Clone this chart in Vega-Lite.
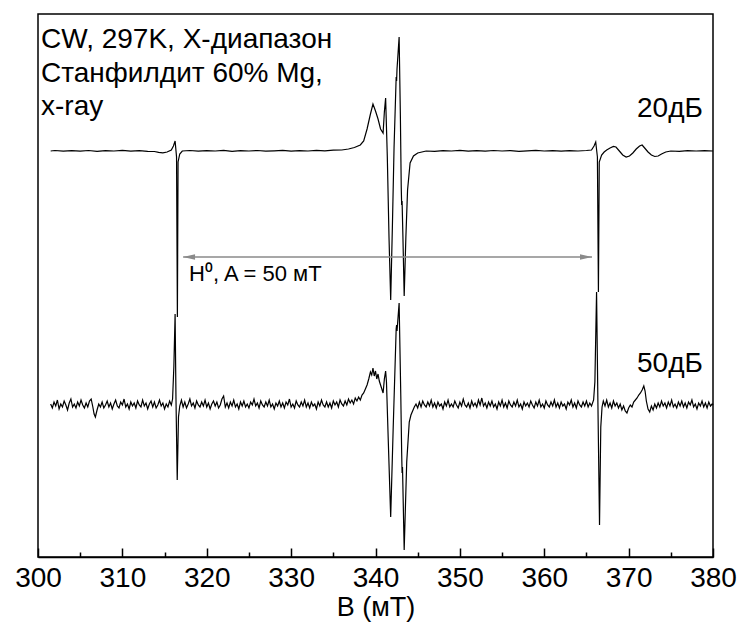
{
"$schema": "https://vega.github.io/schema/vega-lite/v6.json",
"width": 675, "height": 543,
"autosize": {"type": "none"},
"padding": {"left": 38, "top": 14, "right": 30, "bottom": 65},
"config": {"view": {"stroke": "black", "strokeWidth": 1.5}, "font": "Liberation Sans"},
"datasets": {
"top": [
{"B":301.5,"v":406},{"B":302,"v":406.5},{"B":303,"v":405.8},{"B":304,"v":406.4},{"B":305,"v":405.9},{"B":306,"v":406.5},{"B":307,"v":405.7},{"B":308,"v":406.3},{"B":309,"v":406},{"B":310,"v":406.6},{"B":311,"v":405.8},{"B":312,"v":406.3},{"B":313,"v":405.6},{"B":313.8,"v":405.5},{"B":314.3,"v":404.6},{"B":314.8,"v":404.2},{"B":315.3,"v":405},{"B":315.8,"v":407},{"B":316.05,"v":411},{"B":316.25,"v":416},{"B":316.42,"v":400},{"B":316.52,"v":240},{"B":316.6,"v":395},{"B":316.8,"v":403},{"B":317.1,"v":406},{"B":318,"v":406.5},{"B":319,"v":405.8},{"B":320,"v":406.4},{"B":321,"v":406},{"B":322,"v":406.6},{"B":323,"v":405.7},{"B":324,"v":406.3},{"B":325,"v":406},{"B":326,"v":406.5},{"B":327,"v":405.8},{"B":328,"v":406.2},{"B":329,"v":406.6},{"B":330,"v":405.9},{"B":331,"v":406.3},{"B":332,"v":406},{"B":333,"v":406.6},{"B":334,"v":406.2},{"B":335,"v":406.8},{"B":336,"v":407},{"B":336.8,"v":408},{"B":337.5,"v":409.5},{"B":338.2,"v":412},{"B":338.6,"v":416},{"B":339.0,"v":428},{"B":339.4,"v":443},{"B":339.7,"v":453},{"B":340.0,"v":446},{"B":340.3,"v":438},{"B":340.6,"v":428},{"B":340.9,"v":424},{"B":341.05,"v":445},{"B":341.2,"v":459},{"B":341.4,"v":400},{"B":341.6,"v":320},{"B":341.8,"v":257},{"B":342.0,"v":330},{"B":342.2,"v":410},{"B":342.45,"v":480},{"B":342.5,"v":476},{"B":342.55,"v":488},{"B":342.8,"v":520},{"B":342.95,"v":440},{"B":343.05,"v":370},{"B":343.1,"v":352},{"B":343.15,"v":356},{"B":343.25,"v":320},{"B":343.4,"v":261},{"B":343.6,"v":320},{"B":343.8,"v":367},{"B":344.1,"v":394},{"B":344.5,"v":401},{"B":345.0,"v":404},{"B":345.5,"v":405},{"B":346,"v":406},{"B":347,"v":405.6},{"B":348,"v":406.3},{"B":349,"v":406},{"B":350,"v":406.6},{"B":351,"v":405.8},{"B":352,"v":406.3},{"B":353,"v":405.9},{"B":354,"v":406.5},{"B":355,"v":406},{"B":356,"v":406.4},{"B":357,"v":405.7},{"B":358,"v":406.2},{"B":359,"v":406.6},{"B":360,"v":406},{"B":361,"v":406.4},{"B":362,"v":405.8},{"B":363,"v":406.3},{"B":364,"v":406},{"B":365,"v":406.5},{"B":365.6,"v":407},{"B":365.9,"v":411},{"B":366.1,"v":415},{"B":366.3,"v":400},{"B":366.42,"v":265},{"B":366.52,"v":395},{"B":366.8,"v":402},{"B":367.1,"v":405},{"B":367.4,"v":407},{"B":367.8,"v":409},{"B":368.2,"v":410.5},{"B":368.5,"v":410},{"B":368.9,"v":406},{"B":369.3,"v":402},{"B":369.7,"v":400},{"B":370.1,"v":401},{"B":370.5,"v":404},{"B":370.9,"v":408},{"B":371.3,"v":411},{"B":371.6,"v":412},{"B":371.9,"v":409},{"B":372.3,"v":405},{"B":372.7,"v":402},{"B":373.1,"v":400.5},{"B":373.5,"v":401},{"B":373.9,"v":403},{"B":374.4,"v":405},{"B":375,"v":406},{"B":376,"v":405.7},{"B":377,"v":406.3},{"B":378,"v":406},{"B":379,"v":406.4},{"B":380,"v":406}
],
"bottom": [
{"B":301.5,"v":153},{"B":301.7,"v":149},{"B":301.9,"v":155},{"B":302.1,"v":151},{"B":302.3,"v":157},{"B":302.5,"v":148},{"B":302.7,"v":153},{"B":302.9,"v":150},{"B":303.1,"v":156},{"B":303.3,"v":152},{"B":303.5,"v":147},{"B":303.7,"v":154},{"B":303.9,"v":158},{"B":304.1,"v":150},{"B":304.3,"v":153},{"B":304.5,"v":149},{"B":304.7,"v":155},{"B":304.9,"v":151},{"B":305.1,"v":157},{"B":305.3,"v":152},{"B":305.5,"v":149},{"B":305.7,"v":154},{"B":305.9,"v":150},{"B":306.1,"v":156},{"B":306.3,"v":158},{"B":306.5,"v":150},{"B":306.65,"v":143},{"B":306.8,"v":140},{"B":307.0,"v":147},{"B":307.2,"v":153},{"B":307.4,"v":150},{"B":307.6,"v":155},{"B":307.8,"v":149},{"B":308.0,"v":152},{"B":308.2,"v":156},{"B":308.4,"v":150},{"B":308.6,"v":154},{"B":308.8,"v":148},{"B":309.0,"v":153},{"B":309.2,"v":157},{"B":309.4,"v":151},{"B":309.6,"v":149},{"B":309.8,"v":155},{"B":310.0,"v":152},{"B":310.2,"v":158},{"B":310.4,"v":150},{"B":310.6,"v":153},{"B":310.8,"v":148},{"B":311.0,"v":155},{"B":311.2,"v":151},{"B":311.4,"v":154},{"B":311.6,"v":149},{"B":311.8,"v":156},{"B":312.0,"v":152},{"B":312.2,"v":150},{"B":312.4,"v":157},{"B":312.6,"v":151},{"B":312.8,"v":154},{"B":313.0,"v":148},{"B":313.2,"v":153},{"B":313.4,"v":156},{"B":313.6,"v":150},{"B":313.8,"v":155},{"B":314.0,"v":149},{"B":314.2,"v":152},{"B":314.4,"v":157},{"B":314.6,"v":151},{"B":314.8,"v":154},{"B":315.0,"v":148},{"B":315.2,"v":153},{"B":315.4,"v":150},{"B":315.6,"v":156},{"B":315.8,"v":152},{"B":315.95,"v":158},{"B":316.1,"v":190},{"B":316.25,"v":243},{"B":316.35,"v":160},{"B":316.5,"v":77},{"B":316.65,"v":140},{"B":316.8,"v":151},{"B":317.0,"v":157},{"B":317.2,"v":150},{"B":317.4,"v":155},{"B":317.6,"v":149},{"B":317.8,"v":153},{"B":318.0,"v":158},{"B":318.2,"v":151},{"B":318.4,"v":154},{"B":318.6,"v":149},{"B":318.8,"v":156},{"B":319.0,"v":152},{"B":319.2,"v":150},{"B":319.4,"v":155},{"B":319.6,"v":151},{"B":319.8,"v":157},{"B":320.0,"v":150},{"B":320.2,"v":154},{"B":320.4,"v":148},{"B":320.6,"v":153},{"B":320.8,"v":156},{"B":321.0,"v":151},{"B":321.2,"v":155},{"B":321.4,"v":149},{"B":321.6,"v":152},{"B":321.8,"v":158},{"B":322.0,"v":161},{"B":322.2,"v":150},{"B":322.4,"v":154},{"B":322.6,"v":149},{"B":322.8,"v":155},{"B":323.0,"v":151},{"B":323.2,"v":157},{"B":323.4,"v":150},{"B":323.6,"v":153},{"B":323.8,"v":148},{"B":324.0,"v":155},{"B":324.2,"v":151},{"B":324.4,"v":156},{"B":324.6,"v":150},{"B":324.8,"v":153},{"B":325.0,"v":149},{"B":325.2,"v":155},{"B":325.4,"v":152},{"B":325.6,"v":158},{"B":325.8,"v":151},{"B":326.0,"v":154},{"B":326.2,"v":149},{"B":326.4,"v":156},{"B":326.6,"v":152},{"B":326.8,"v":150},{"B":327.0,"v":155},{"B":327.2,"v":151},{"B":327.4,"v":157},{"B":327.6,"v":150},{"B":327.8,"v":153},{"B":328.0,"v":148},{"B":328.2,"v":154},{"B":328.4,"v":151},{"B":328.6,"v":156},{"B":328.8,"v":150},{"B":329.0,"v":154},{"B":329.2,"v":149},{"B":329.4,"v":155},{"B":329.6,"v":152},{"B":329.8,"v":158},{"B":330.0,"v":150},{"B":330.2,"v":153},{"B":330.4,"v":149},{"B":330.6,"v":156},{"B":330.8,"v":152},{"B":331.0,"v":150},{"B":331.2,"v":155},{"B":331.4,"v":151},{"B":331.6,"v":157},{"B":331.8,"v":150},{"B":332.0,"v":154},{"B":332.2,"v":149},{"B":332.4,"v":155},{"B":332.6,"v":151},{"B":332.8,"v":153},{"B":333.0,"v":148},{"B":333.2,"v":155},{"B":333.4,"v":151},{"B":333.6,"v":157},{"B":333.8,"v":152},{"B":334.0,"v":150},{"B":334.2,"v":155},{"B":334.4,"v":150},{"B":334.6,"v":154},{"B":334.8,"v":149},{"B":335.0,"v":156},{"B":335.2,"v":152},{"B":335.4,"v":155},{"B":335.6,"v":150},{"B":335.8,"v":157},{"B":336.0,"v":153},{"B":336.2,"v":151},{"B":336.4,"v":156},{"B":336.6,"v":152},{"B":336.8,"v":158},{"B":337.0,"v":154},{"B":337.2,"v":157},{"B":337.4,"v":153},{"B":337.6,"v":159},{"B":337.8,"v":156},{"B":338.0,"v":160},{"B":338.2,"v":157},{"B":338.4,"v":162},{"B":338.6,"v":164},{"B":338.8,"v":168},{"B":339.0,"v":172},{"B":339.2,"v":178},{"B":339.4,"v":185},{"B":339.55,"v":182},{"B":339.7,"v":189},{"B":339.85,"v":181},{"B":340.0,"v":186},{"B":340.15,"v":178},{"B":340.3,"v":183},{"B":340.45,"v":176},{"B":340.6,"v":172},{"B":340.75,"v":168},{"B":340.9,"v":164},{"B":341.05,"v":178},{"B":341.2,"v":186},{"B":341.3,"v":175},{"B":341.5,"v":120},{"B":341.8,"v":40},{"B":342.1,"v":130},{"B":342.45,"v":228},{"B":342.5,"v":232},{"B":342.55,"v":226},{"B":342.8,"v":254},{"B":343.0,"v":160},{"B":343.1,"v":105},{"B":343.15,"v":84},{"B":343.2,"v":90},{"B":343.4,"v":7},{"B":343.7,"v":95},{"B":344.0,"v":135},{"B":344.2,"v":142},{"B":344.4,"v":146},{"B":344.6,"v":150},{"B":344.8,"v":153},{"B":345.0,"v":149},{"B":345.2,"v":155},{"B":345.4,"v":150},{"B":345.6,"v":156},{"B":345.8,"v":152},{"B":346.0,"v":150},{"B":346.2,"v":155},{"B":346.4,"v":151},{"B":346.6,"v":157},{"B":346.8,"v":150},{"B":347.0,"v":154},{"B":347.2,"v":149},{"B":347.4,"v":155},{"B":347.6,"v":151},{"B":347.8,"v":153},{"B":348.0,"v":148},{"B":348.2,"v":155},{"B":348.4,"v":151},{"B":348.6,"v":157},{"B":348.8,"v":150},{"B":349.0,"v":153},{"B":349.2,"v":150},{"B":349.4,"v":156},{"B":349.6,"v":152},{"B":349.8,"v":149},{"B":350.0,"v":155},{"B":350.2,"v":151},{"B":350.4,"v":158},{"B":350.6,"v":152},{"B":350.8,"v":150},{"B":351.0,"v":154},{"B":351.2,"v":149},{"B":351.4,"v":156},{"B":351.6,"v":151},{"B":351.8,"v":154},{"B":352.0,"v":150},{"B":352.2,"v":157},{"B":352.4,"v":152},{"B":352.6,"v":159},{"B":352.8,"v":151},{"B":353.0,"v":154},{"B":353.2,"v":149},{"B":353.4,"v":155},{"B":353.6,"v":151},{"B":353.8,"v":156},{"B":354.0,"v":150},{"B":354.2,"v":153},{"B":354.4,"v":148},{"B":354.6,"v":155},{"B":354.8,"v":151},{"B":355.0,"v":157},{"B":355.2,"v":150},{"B":355.4,"v":154},{"B":355.6,"v":149},{"B":355.8,"v":156},{"B":356.0,"v":152},{"B":356.2,"v":150},{"B":356.4,"v":155},{"B":356.6,"v":151},{"B":356.8,"v":157},{"B":357.0,"v":150},{"B":357.2,"v":153},{"B":357.4,"v":148},{"B":357.6,"v":155},{"B":357.8,"v":151},{"B":358.0,"v":154},{"B":358.2,"v":150},{"B":358.4,"v":156},{"B":358.6,"v":152},{"B":358.8,"v":149},{"B":359.0,"v":155},{"B":359.2,"v":151},{"B":359.4,"v":157},{"B":359.6,"v":150},{"B":359.8,"v":153},{"B":360.0,"v":149},{"B":360.2,"v":156},{"B":360.4,"v":152},{"B":360.6,"v":150},{"B":360.8,"v":155},{"B":361.0,"v":151},{"B":361.2,"v":157},{"B":361.4,"v":150},{"B":361.6,"v":154},{"B":361.8,"v":149},{"B":362.0,"v":155},{"B":362.2,"v":151},{"B":362.4,"v":153},{"B":362.6,"v":148},{"B":362.8,"v":155},{"B":363.0,"v":152},{"B":363.2,"v":157},{"B":363.4,"v":150},{"B":363.6,"v":154},{"B":363.8,"v":149},{"B":364.0,"v":156},{"B":364.2,"v":152},{"B":364.4,"v":150},{"B":364.6,"v":155},{"B":364.8,"v":151},{"B":365.0,"v":156},{"B":365.2,"v":150},{"B":365.4,"v":154},{"B":365.6,"v":151},{"B":365.85,"v":157},{"B":366.0,"v":175},{"B":366.2,"v":265},{"B":366.35,"v":160},{"B":366.55,"v":32},{"B":366.7,"v":130},{"B":366.85,"v":150},{"B":367.0,"v":156},{"B":367.2,"v":151},{"B":367.4,"v":157},{"B":367.6,"v":150},{"B":367.8,"v":154},{"B":368.0,"v":149},{"B":368.2,"v":156},{"B":368.4,"v":151},{"B":368.6,"v":154},{"B":368.8,"v":149},{"B":369.0,"v":153},{"B":369.2,"v":147},{"B":369.4,"v":151},{"B":369.6,"v":146},{"B":369.8,"v":144},{"B":370.0,"v":149},{"B":370.2,"v":152},{"B":370.4,"v":150},{"B":370.6,"v":155},{"B":370.8,"v":157},{"B":371.0,"v":159},{"B":371.2,"v":162},{"B":371.4,"v":164},{"B":371.6,"v":167},{"B":371.8,"v":171},{"B":371.95,"v":166},{"B":372.1,"v":156},{"B":372.3,"v":148},{"B":372.5,"v":145},{"B":372.7,"v":151},{"B":372.9,"v":147},{"B":373.1,"v":153},{"B":373.3,"v":149},{"B":373.5,"v":154},{"B":373.7,"v":150},{"B":373.9,"v":156},{"B":374.1,"v":151},{"B":374.3,"v":154},{"B":374.5,"v":149},{"B":374.7,"v":155},{"B":374.9,"v":151},{"B":375.1,"v":157},{"B":375.3,"v":150},{"B":375.5,"v":153},{"B":375.7,"v":149},{"B":375.9,"v":155},{"B":376.1,"v":151},{"B":376.3,"v":156},{"B":376.5,"v":150},{"B":376.7,"v":154},{"B":376.9,"v":149},{"B":377.1,"v":155},{"B":377.3,"v":152},{"B":377.5,"v":157},{"B":377.7,"v":150},{"B":377.9,"v":153},{"B":378.1,"v":148},{"B":378.3,"v":154},{"B":378.5,"v":151},{"B":378.7,"v":156},{"B":378.9,"v":150},{"B":379.1,"v":154},{"B":379.3,"v":149},{"B":379.5,"v":155},{"B":379.7,"v":151},{"B":379.9,"v":153},{"B":380.0,"v":152}
],
"arrow": [{"B":317.2,"B2":365.66,"v":300}],
"heads": [{"B":317.9,"v":300,"dir":"left"},{"B":364.95,"v":300,"dir":"right"}],
"notes": [
{"B":300.36,"v":509,"t":"CW, 297K, X-диапазон","g":"tl"},
{"B":300.36,"v":475,"t":"Станфилдит 60% Mg,","g":"tl"},
{"B":300.36,"v":442,"t":"x-ray","g":"tl"},
{"B":378.8,"v":440,"t":"20дБ","g":"r"},
{"B":378.8,"v":185,"t":"50дБ","g":"r"},
{"B":317.9,"v":276,"t":"H⁰, A = 50 мТ","g":"h"}
]
},
"encoding": {
"x": {"field":"B","type":"quantitative","title":"B (мТ)",
 "scale":{"domain":[300,380],"nice":false,"zero":false},
 "axis":{"values":[300,305,310,315,320,325,330,335,340,345,350,355,360,365,370,375,380],
  "labelExpr":"datum.value % 10 === 0 ? datum.label : ''",
  "tickSize":{"condition":{"test":"datum.value % 10 === 0","value":-9},"value":-5},
  "tickColor":"black","tickWidth":1.5,"domainColor":"black","domainWidth":1.5,
  "labelFontSize":28,"labelColor":"black","labelPadding":16,"labelFlush":false,"labelOverlap":false,
  "labelFont":"Liberation Sans","titleFont":"Liberation Sans",
  "titleFontSize":27,"titleFontWeight":"normal","titleColor":"black","titlePadding":-2,"grid":false}},
"y": {"field":"v","type":"quantitative","scale":{"domain":[0,543],"nice":false,"zero":false},"axis":null}
},
"layer": [
{"data":{"name":"top"},"mark":{"type":"line","color":"black","strokeWidth":1.2}},
{"data":{"name":"bottom"},"mark":{"type":"line","color":"black","strokeWidth":1.2}},
{"data":{"name":"arrow"},"mark":{"type":"rule","color":"#8a8a8a","strokeWidth":1.3},"encoding":{"x2":{"field":"B2"}}},
{"data":{"name":"heads"},"mark":{"type":"point","filled":true,"color":"#8a8a8a","opacity":1,"size":144},
 "encoding":{"shape":{"field":"dir","type":"nominal","legend":null,"scale":{"domain":["left","right"],"range":["M -1 0 L 1 -0.45 L 1 0.45 Z","M 1 0 L -1 -0.45 L -1 0.45 Z"]}}}},
{"data":{"name":"notes"},"transform":[{"filter":"datum.g === 'tl'"}],"mark":{"type":"text","align":"left","baseline":"alphabetic","fontSize":28,"color":"black","font":"Liberation Sans"},"encoding":{"text":{"field":"t"}}},
{"data":{"name":"notes"},"transform":[{"filter":"datum.g === 'r'"}],"mark":{"type":"text","align":"right","baseline":"alphabetic","fontSize":28,"color":"black","font":"Liberation Sans"},"encoding":{"text":{"field":"t"}}},
{"data":{"name":"notes"},"transform":[{"filter":"datum.g === 'h'"}],"mark":{"type":"text","align":"left","baseline":"alphabetic","fontSize":22,"color":"black","font":"Liberation Sans"},"encoding":{"text":{"field":"t"}}}
]
}
